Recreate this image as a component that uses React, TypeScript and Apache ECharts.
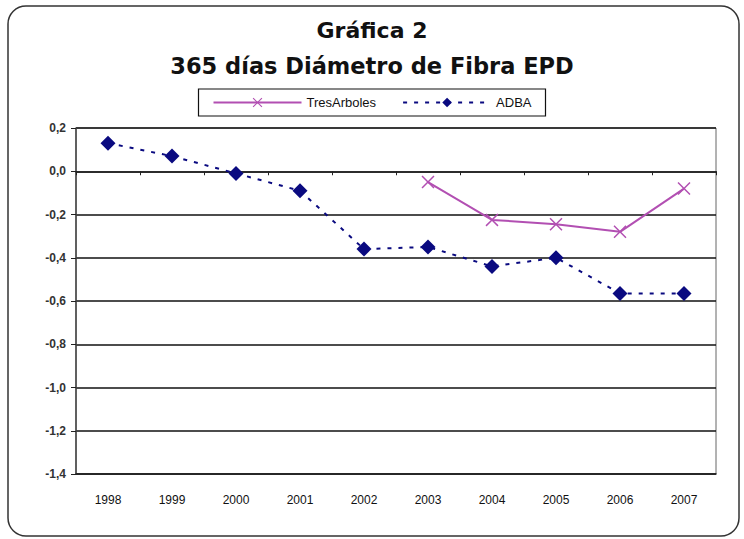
import React, { useEffect, useRef } from "react";
import * as echarts from "echarts";

const years = ["1998", "1999", "2000", "2001", "2002", "2003", "2004", "2005", "2006", "2007"];
const tresArboles = [null, null, null, null, null, -0.05, -0.225, -0.245, -0.28, -0.08];
const adba = [0.13, 0.07, -0.01, -0.09, -0.36, -0.35, -0.44, -0.4, -0.565, -0.565];
const titleLine1 = "Gráfica 2";
const titleLine2 = "365 días Diámetro de Fibra EPD";

const crossPath =
  "path://M0,0.8L0.8,0L5,4.2L9.2,0L10,0.8L5.8,5L10,9.2L9.2,10L5,5.8L0.8,10L0,9.2L4.2,5Z";

export default function App() {
  const ref = useRef<HTMLDivElement>(null);
  useEffect(() => {
    if (!ref.current) return;
    const chart = echarts.init(ref.current, null, { renderer: "svg" });
    const fmt = (v: number) => {
      const s = (Math.round(v * 10) / 10).toFixed(1).replace(".", ",");
      return s === "-0,0" ? "0,0" : s;
    };
    chart.setOption({
      animation: false,
      backgroundColor: "#ffffff",
      title: [
        {
          text: titleLine1,
          left: "center",
          top: 14,
          textStyle: { fontFamily: "DejaVu Sans", fontWeight: "bold", fontSize: 22, color: "#111" },
        },
        {
          text: titleLine2,
          left: "center",
          top: 49,
          textStyle: { fontFamily: "DejaVu Sans", fontWeight: "bold", fontSize: 22.5, color: "#111" },
        },
      ],
      legend: {
        top: 89,
        left: "center",
        itemWidth: 88,
        itemHeight: 12,
        itemGap: 26,
        padding: [7, 14],
        borderColor: "#111",
        borderWidth: 1.2,
        textStyle: { fontFamily: "Liberation Sans", fontSize: 13, color: "#111" },
        data: ["TresArboles", "ADBA"],
      },
      graphic: [
        {
          type: "rect",
          shape: { x: 8, y: 6, width: 731, height: 530, r: 18 },
          style: { fill: "none", stroke: "#333", lineWidth: 1.5 },
          silent: true,
          z: -1,
        },
      ],
      grid: {
        left: 76,
        right: 28,
        top: 128,
        bottom: 65,
        show: true,
        borderColor: "#666",
        borderWidth: 1,
      },
      xAxis: [
        {
          type: "category",
          data: years,
          boundaryGap: true,
          axisLine: { show: true, onZero: false, lineStyle: { color: "#222", width: 1.5 } },
          axisTick: { show: false },
          axisLabel: {
            margin: 20,
            fontFamily: "Liberation Sans",
            fontSize: 12,
            color: "#111",
          },
          splitLine: { show: false },
        },
        {
          type: "category",
          data: years,
          position: "bottom",
          boundaryGap: true,
          axisLine: { show: true, onZero: true, lineStyle: { color: "#222", width: 1.5 } },
          axisTick: { show: true, length: 4, lineStyle: { color: "#222" } },
          axisLabel: { show: false },
          splitLine: { show: false },
        },
      ],
      yAxis: {
        type: "value",
        min: -1.4,
        max: 0.2,
        interval: 0.2,
        axisLine: { show: true, lineStyle: { color: "#444", width: 1.5 } },
        axisTick: { show: true, length: 5, lineStyle: { color: "#222" } },
        axisLabel: {
          formatter: fmt,
          fontFamily: "Liberation Sans",
          fontSize: 12,
          fontWeight: "bold",
          color: "#333",
          margin: 10,
        },
        splitLine: { show: true, lineStyle: { color: "#111", width: 1.5 } },
      },
      series: [
        {
          name: "TresArboles",
          type: "line",
          data: tresArboles,
          xAxisIndex: 0,
          symbol: crossPath,
          symbolSize: 13,
          showAllSymbol: true,
          lineStyle: { color: "#b24fb2", width: 2 },
          itemStyle: { color: "#b24fb2" },
          z: 3,
        },
        {
          name: "ADBA",
          type: "line",
          data: adba,
          xAxisIndex: 0,
          symbol: "diamond",
          symbolSize: 15,
          showAllSymbol: true,
          lineStyle: { color: "#0a0a80", width: 2, type: [4, 7] },
          itemStyle: { color: "#0a0a80" },
          z: 3,
        },
      ],
    });
    return () => chart.dispose();
  }, []);
  return (
    <div
      ref={ref}
      style={{ position: "fixed", left: 0, top: 0, width: 744, height: 539 }}
    />
  );
}
